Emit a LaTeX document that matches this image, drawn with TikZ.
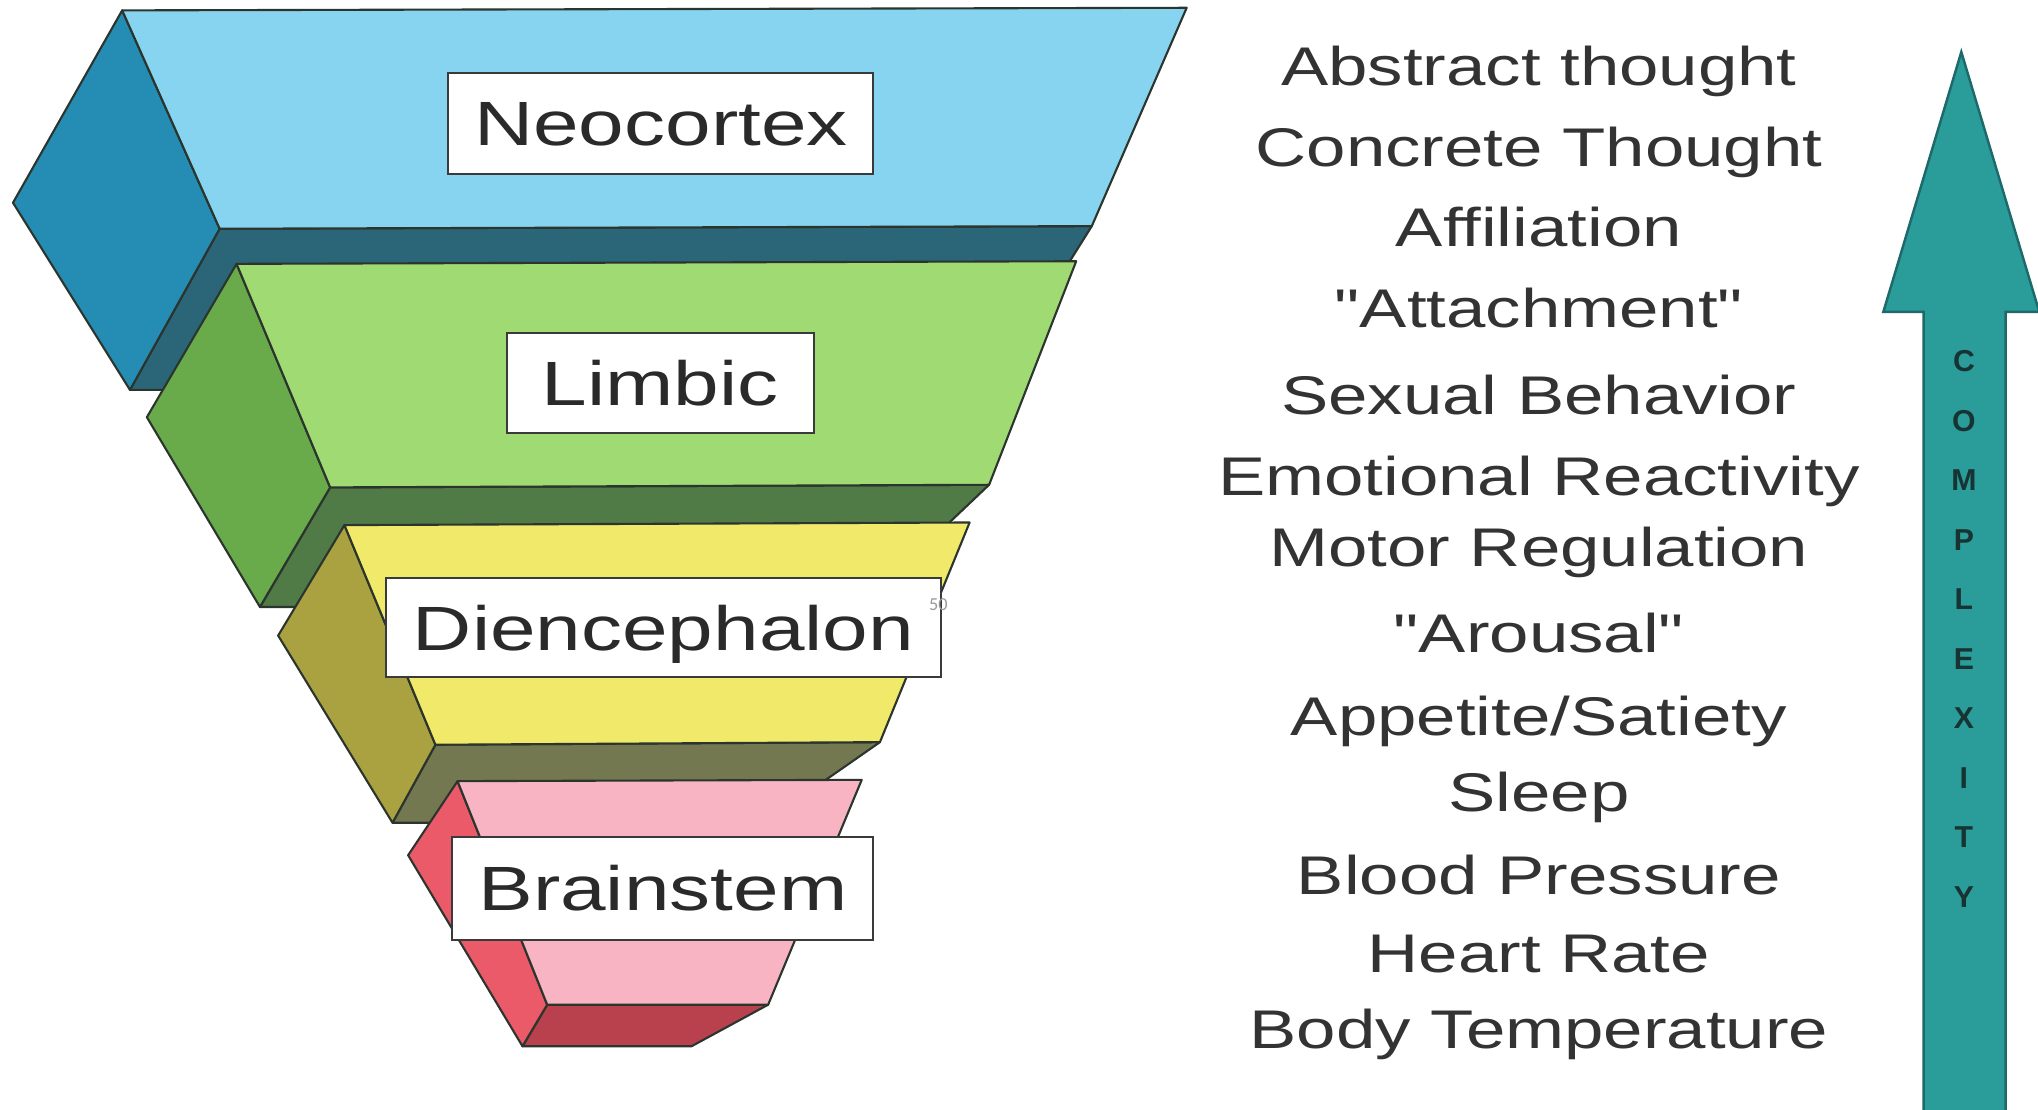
\documentclass[tikz,border=0pt]{standalone}
\usepackage{fontspec}
\setmainfont{Liberation Sans}
\newfontfamily\numfont{Carlito}
\newcommand\sq{\XeTeXglyph\XeTeXcharglyph34\relax}
\definecolor{outl}{HTML}{2B352E}
\definecolor{neoF}{HTML}{87D4F0}
\definecolor{neoS}{HTML}{258CB4}
\definecolor{neoU}{HTML}{2A6677}
\definecolor{limF}{HTML}{A0DA73}
\definecolor{limS}{HTML}{69AA4B}
\definecolor{limU}{HTML}{507A46}
\definecolor{dieF}{HTML}{F0E969}
\definecolor{dieS}{HTML}{AAA241}
\definecolor{dieU}{HTML}{737850}
\definecolor{braF}{HTML}{F8B4C3}
\definecolor{braS}{HTML}{EB5A69}
\definecolor{braU}{HTML}{B9414E}
\definecolor{boxline}{HTML}{3A3A3A}
\definecolor{labeltext}{HTML}{2A2A2A}
\definecolor{listtext}{HTML}{333333}
\definecolor{teal1}{HTML}{2A9C9A}
\definecolor{teal2}{HTML}{1E6A6A}
\definecolor{lettc}{HTML}{173433}
\tikzset{
  face/.style={draw=outl, line width=0.6pt, line join=round},
  lbl/.style={draw=boxline, fill=white, line width=0.6pt, inner sep=0pt, text=labeltext,
    font=\fontsize{17.8}{20}\selectfont, text height=12.7pt, text depth=0pt},
  item/.style={anchor=base, text=listtext, inner sep=0pt, font=\fontsize{15.5}{18}\selectfont},
  cx/.style={text=lettc, inner sep=0pt, font=\bfseries\fontsize{8.6}{10}\selectfont},
  arrowshape/.style={fill=teal1, draw=teal2, line width=0.7pt, line join=miter},
}
\begin{document}
\begin{tikzpicture}[x=0.013cm, y=-0.013cm]
\useasboundingbox (0,0) rectangle (1568,854);
\fill[white] (0,0) rectangle (1568,854);
\clip (0,0) rectangle (1568,854);

% Neocortex block
\path[face, fill=neoU] (169,176) -- (840,174) -- (761,300) -- (100,300) -- cycle;
\path[face, fill=neoS] (94,8) -- (10,156) -- (100,300) -- (169,176) -- cycle;
\path[face, fill=neoF] (94,8) -- (913,6) -- (840,174) -- (169,176) -- cycle;

% Limbic block
\path[face, fill=limU] (254,375) -- (761,373) -- (662,467) -- (200,467) -- cycle;
\path[face, fill=limS] (182,203) -- (113,321) -- (200,467) -- (254,375) -- cycle;
\path[face, fill=limF] (182,203) -- (828,201) -- (761,373) -- (254,375) -- cycle;

% Diencephalon block
\path[face, fill=dieU] (335,573) -- (677,571) -- (588,633) -- (302,633) -- cycle;
\path[face, fill=dieS] (265,404) -- (214,489) -- (302,633) -- (335,573) -- cycle;
\path[face, fill=dieF] (265,404) -- (746,402) -- (677,571) -- (335,573) -- cycle;

% Brainstem block
\path[face, fill=braU] (421,773) -- (591,773) -- (532,805) -- (402,805) -- cycle;
\path[face, fill=braS] (352,601) -- (314,658) -- (402,805) -- (421,773) -- cycle;
\path[face, fill=braF] (352,601) -- (663,600) -- (591,773) -- (421,773) -- cycle;

% Labels
\node[lbl, minimum width=4.251cm, minimum height=1.014cm] (neo) at (508.5,95) {\scalebox{1.31}[1]{Neocortex}};
\node[lbl, minimum width=3.068cm, minimum height=1.001cm] (lim) at (508,294.5) {\scalebox{1.31}[1]{Limbic}};
\node[lbl, minimum width=5.551cm, minimum height=0.988cm] (die) at (510.5,483) {\scalebox{1.31}[1]{Diencephalon}};
\node[lbl, minimum width=4.212cm, minimum height=1.027cm] (bra) at (510,683.5) {\scalebox{1.31}[1]{Brainstem}};

\node[font=\numfont\fontsize{5.2}{6}\selectfont, text=black!40, inner sep=0pt] (pg) at (722,465) {50};

% Function list
\node[item] (f1) at (1184,66) {\scalebox{1.3}[1]{Abstract thought}};
\node[item] (f2) at (1184,128) {\scalebox{1.3}[1]{Concrete Thought}};
\node[item] (f3) at (1184,190) {\scalebox{1.3}[1]{Affiliation}};
\node[item] (f4) at (1184,252) {\scalebox{1.3}[1]{\sq Attachment\sq}};
\node[item] (f5) at (1184,319) {\scalebox{1.3}[1]{Sexual Behavior}};
\node[item] (f6) at (1184,381) {\scalebox{1.3}[1]{Emotional Reactivity}};
\node[item] (f7) at (1184,436) {\scalebox{1.3}[1]{Motor Regulation}};
\node[item] (f8) at (1184,502) {\scalebox{1.3}[1]{\sq Arousal\sq}};
\node[item] (f9) at (1184,566) {\scalebox{1.3}[1]{Appetite/Satiety}};
\node[item] (f10) at (1184,624) {\scalebox{1.3}[1]{Sleep}};
\node[item] (f11) at (1184,688) {\scalebox{1.3}[1]{Blood Pressure}};
\node[item] (f12) at (1184,748) {\scalebox{1.3}[1]{Heart Rate}};
\node[item] (f13) at (1184,807) {\scalebox{1.3}[1]{Body Temperature}};

% Complexity arrow
\path[arrowshape] (1480,870) -- (1480,240) -- (1449,240) -- (1509,40) -- (1569,240) -- (1543,240) -- (1543,870) -- cycle;
\foreach \ch [count=\i] in {C,O,M,P,L,E,X,I,T,Y}
  \node[cx] (c\i) at (1511,{278+45.8*(\i-1)}) {\ch};
\end{tikzpicture}
\end{document}
